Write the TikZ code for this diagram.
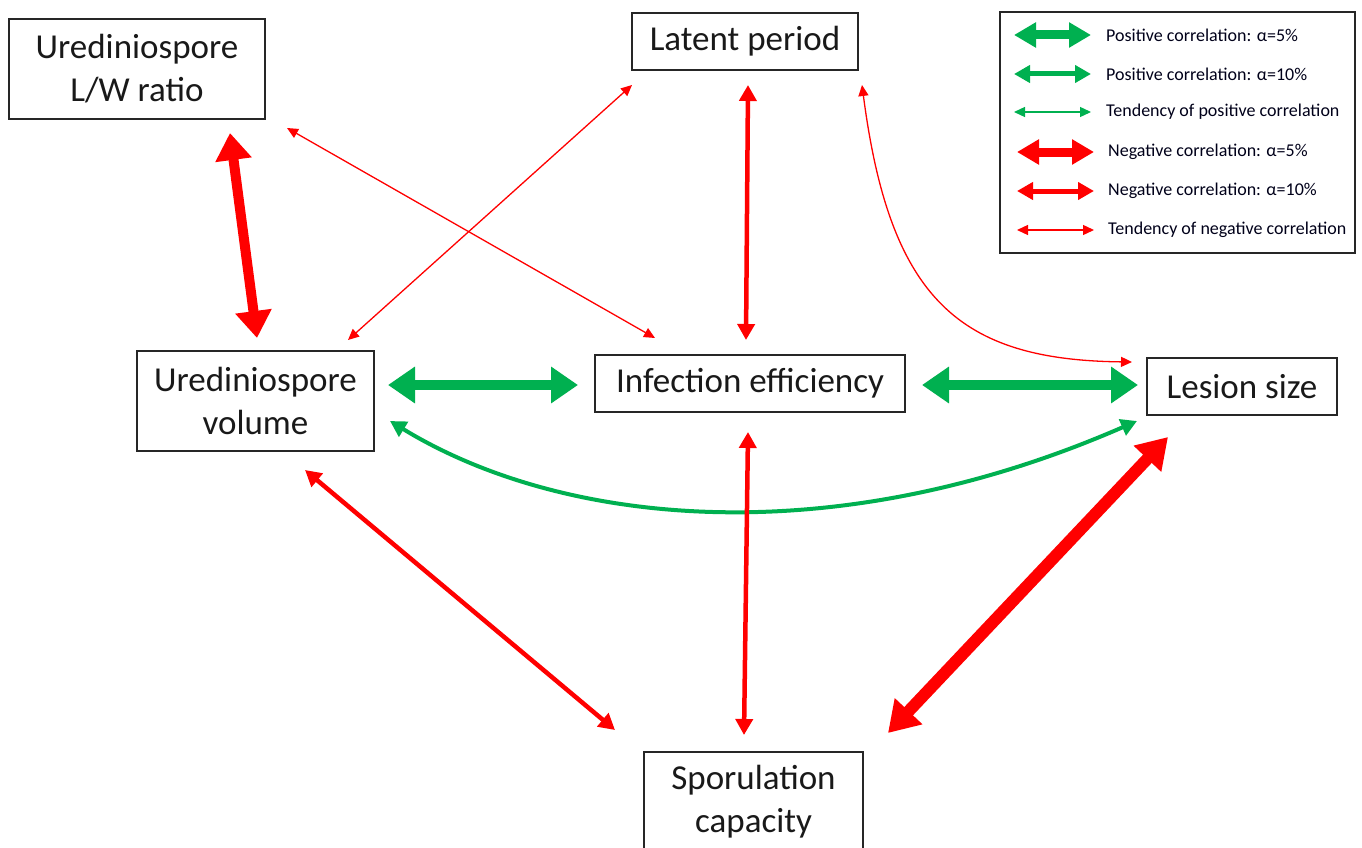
\documentclass[tikz,border=0pt]{standalone}
\usepackage{fontspec}
\setmainfont{Carlito}
\usetikzlibrary{arrows.meta}
\definecolor{pgreen}{RGB}{0,176,80}
\definecolor{nred}{RGB}{255,0,0}
\definecolor{txt}{RGB}{25,25,25}
\begin{document}
\begin{tikzpicture}[x=1pt,y=-1pt,
  box/.style={draw=black!85, line width=1.5pt, text=txt, font=\fontsize{35}{43}\selectfont, align=center, inner sep=0pt},
  leg/.style={text=black!90!blue, font=\fontsize{18}{20}\selectfont, anchor=west, inner sep=0pt},
  big/.style={line width=10pt, >={Triangle[width=35pt,length=27pt]}, <->},
  bigger/.style={line width=12pt, >={Triangle[width=36pt,length=30pt]}, <->},
  mid/.style={line width=4.5pt, >={Triangle[width=17pt,length=16pt]}, <->},
  thin/.style={line width=1.3pt, >={Triangle[width=10pt,length=11pt]}, <->},
  lbig/.style={line width=9pt, >={Triangle[width=24pt,length=22pt]}, <->},
  lmid/.style={line width=5pt, >={Triangle[width=17pt,length=16pt]}, <->},
  lthin/.style={line width=1.3pt, >={Triangle[width=10pt,length=11pt]}, <->}]
\useasboundingbox (0,0) rectangle (1362,848);
\clip (0,0) rectangle (1362,848);
% boxes
\node[box, minimum width=256pt, minimum height=100pt] (lw) at (137,69) {Urediniospore\\L/W ratio};
\node[box, minimum width=226pt, minimum height=57pt] (lat) at (745,41.5) {Latent period};
\node[box, minimum width=237pt, minimum height=100pt] (vol) at (255.5,401) {Urediniospore\\volume};
\node[box, minimum width=310pt, minimum height=57pt] (inf) at (750,383.5) {Infection efficiency};
\node[box, minimum width=190pt, minimum height=57pt] (les) at (1242,386.5) {Lesion size};
\node[box, minimum width=219pt, minimum height=100pt] (spo) at (753.5,802) {Sporulation\\capacity};
% legend
\node[draw=black!85, line width=1.5pt, minimum width=355pt, minimum height=241pt, inner sep=0pt] (legbox) at (1177.5,132.5) {};
\foreach \n/\y in {l1/35,l2/74,l3/112,l4/152,l5/191,l6/230}{
  \coordinate (\n a) at (1014,\y);
  \coordinate (\n b) at (1091,\y);
}
\draw[lbig, pgreen] (l1a) -- (l1b);
\draw[lmid, pgreen] (l2a) -- (l2b);
\draw[lthin, pgreen] (l3a) -- (l3b);
\draw[lbig, nred] ([xshift=3pt]l4a) -- ([xshift=3pt]l4b);
\draw[lmid, nred] ([xshift=3pt]l5a) -- ([xshift=3pt]l5b);
\draw[lthin, nred] ([xshift=3pt]l6a) -- ([xshift=3pt]l6b);
\node[leg] (t1) at (1106,35) {Positive correlation: α=5\%};
\node[leg] (t2) at (1106,74) {Positive correlation: α=10\%};
\node[leg] (t3) at (1106,112) {Tendency of positive correlation};
\node[leg] (t4) at (1108,152) {Negative correlation: α=5\%};
\node[leg] (t5) at (1108,191) {Negative correlation: α=10\%};
\node[leg] (t6) at (1108,230) {Tendency of negative correlation};
% connector endpoints
\coordinate (a1) at (230,133); \coordinate (b1) at (257,338);
\coordinate (a2) at (287,128); \coordinate (b2) at (655,338);
\coordinate (a3) at (632,85);  \coordinate (b3) at (348,340);
\coordinate (a4) at (748,85);  \coordinate (b4) at (746,340);
\coordinate (a5) at (862,85);  \coordinate (b5) at (1132,362);
\coordinate (a6) at (388,385); \coordinate (b6) at (578,385);
\coordinate (a7) at (922,385); \coordinate (b7) at (1138,385);
\coordinate (a8) at (390,421); \coordinate (b8) at (1137,421);
\coordinate (a9) at (305,470); \coordinate (b9) at (615,730);
\coordinate (a10) at (748,432); \coordinate (b10) at (744,735);
\coordinate (a11) at (1168,437); \coordinate (b11) at (888,733);
% connectors
\draw[big, nred] (a1) -- (b1);
\draw[thin, nred] (a2) -- (b2);
\draw[thin, nred] (a3) -- (b3);
\draw[mid, nred] (a4) -- (b4);
\draw[thin, nred] (a5) .. controls (890,300) and (960,360) .. (b5);
\draw[big, pgreen] (a6) -- (b6);
\draw[big, pgreen] (a7) -- (b7);
\draw[mid, pgreen, line width=4pt] (a8) .. controls (560,525) and (830,555) .. (b8);
\draw[mid, nred] (a9) -- (b9);
\draw[mid, nred] (a10) -- (b10);
\draw[bigger, nred] (a11) -- (b11);
\end{tikzpicture}
\end{document}
